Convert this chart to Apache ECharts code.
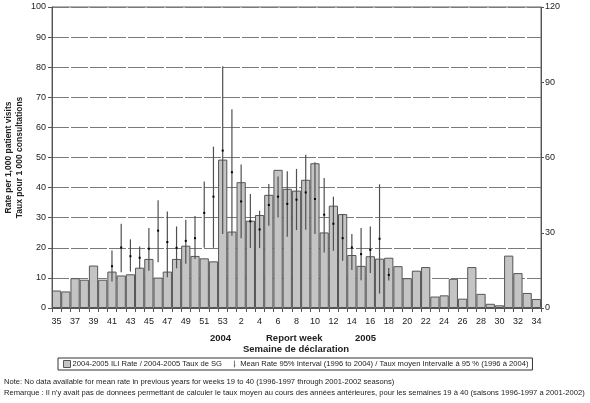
<!DOCTYPE html>
<html><head><meta charset="utf-8">
<script src="https://cdn.jsdelivr.net/npm/echarts@6/dist/echarts.min.js"></script>
<style>html,body{margin:0;padding:0;background:#fff}#c{width:590px;height:403px}</style>
</head><body><div id="c"></div>
<script>
var weeks = ['35','36','37','38','39','40','41','42','43','44','45','46','47','48','49','50','51','52','53',
  '1','2','3','4','5','6','7','8','9','10','11','12','13','14','15','16','17','18','19','20','21','22','23','24','25','26','27','28','29','30','31','32','33','34'];
var iliRate = [5.8,5.5,9.9,9.4,14.1,9.4,12.1,10.8,11.2,13.4,16.3,10.1,12.1,16.3,20.7,17.3,16.5,15.5,49.3,
  25.4,41.8,29,30.9,37.6,45.9,39.6,39,42.6,48.1,25.1,34,31.2,17.6,14,17.2,16.4,
  16.7,13.9,9.9,12.4,13.6,3.8,4.2,9.7,3.1,13.6,4.7,1.4,0.9,17.4,11.6,5,3];
var meanRate = [null,null,null,null,null,null,13.9,20.1,17.2,16.7,19.7,25.7,21.9,20,22.3,23.2,31.6,37,52.3,
  45.1,35.4,28.8,26.1,34.2,37,34.6,36,38.4,36.2,31,28,23.2,20.1,17.9,19.3,23,11,
  null,null,null,null,null,null,null,null,null,null,null,null,null,null,null,null];
var meanLow = [null,null,null,null,null,null,8.8,11.9,12.1,13,12.4,15.2,10.2,13.2,14.7,16.3,20,20,24.6,
  24,23.2,19.9,19.9,27.3,30.1,23.7,25.9,26,24.6,18.4,19,15.7,12.6,9.2,11.6,4.8,9.1,
  null,null,null,null,null,null,null,null,null,null,null,null,null,null,null,null];
var meanHigh = [null,null,null,null,null,null,19.1,28,22.8,20.4,26.6,35.8,32.1,27.1,29.3,30.6,42,53.6,80.3,
  66,47.7,37.9,32.3,41.2,43.7,45.4,46.2,50.9,48.4,43.2,37,31.2,24.6,26.6,27.1,41.1,13.3,
  null,null,null,null,null,null,null,null,null,null,null,null,null,null,null,null];
var leftTicks = [0,10,20,30,40,50,60,70,80,90,100];
var rightTicks = [0,30,60,90,120];

var errData = [];
for (var i = 0; i < weeks.length; i++) {
  if (meanRate[i] != null) errData.push([i, meanLow[i], meanHigh[i], meanRate[i]]);
}
var FONT = 'Liberation Sans, Arial, sans-serif';
var chart = echarts.init(document.getElementById('c'));
chart.setOption({
  animation: false,
  backgroundColor: '#fff',
  grid: {left: 52, right: 49, top: 7, bottom: 95, show: true, borderColor: '#666', borderWidth: 1,
         containLabel: false, outerBoundsMode: 'none'},
  xAxis: {
    type: 'category', data: weeks, boundaryGap: true,
    axisLine: {lineStyle: {color: '#555', width: 1}},
    axisTick: {show: true, interval: 0, length: 4, lineStyle: {color: '#555'}},
    axisLabel: {interval: 1, color: '#222', fontSize: 9, fontFamily: FONT, margin: 9}
  },
  yAxis: [{
    type: 'value', min: leftTicks[0], max: leftTicks[leftTicks.length-1], interval: 10,
    name: 'Rate per 1,000 patient visits\nTaux pour 1 000 consultations',
    nameLocation: 'middle', nameGap: 27, nameRotate: 90, nameMoveOverlap: false,
    nameTextStyle: {fontSize: 8.5, fontWeight: 'bold', color: '#222', fontFamily: FONT, lineHeight: 11},
    axisLine: {show: true, lineStyle: {color: '#555'}},
    axisTick: {show: true, length: 4, lineStyle: {color: '#555'}},
    axisLabel: {color: '#222', fontSize: 9, fontFamily: FONT, margin: 6},
    splitLine: {show: true, lineStyle: {color: '#7a7a7a', width: 1, type: [17, 2]}}
  }, {
    type: 'value', min: rightTicks[0], max: rightTicks[rightTicks.length-1], interval: 30, position: 'right',
    axisLine: {show: true, lineStyle: {color: '#555'}},
    axisTick: {show: true, length: 3, lineStyle: {color: '#555'}},
    axisLabel: {color: '#222', fontSize: 9, fontFamily: FONT, margin: 4},
    splitLine: {show: false}
  }],
  legend: {
    left: 58, top: 358, orient: 'horizontal',
    borderColor: '#333', borderWidth: 1, padding: [2, 4, 2, 5], itemGap: 12,
    itemWidth: 7, itemHeight: 7,
    textStyle: {fontSize: 7.6, color: '#222', fontFamily: FONT, padding: [0,0,0,-3]},
    data: [
      {name: '2004-2005 ILI Rate / 2004-2005 Taux de SG', icon: 'rect', itemStyle: {color: '#c4c4c4', borderColor: '#555', borderWidth: 1}},
      {name: 'Mean Rate 95% Interval (1996 to 2004) / Taux moyen Intervalle à 95 % (1996 à 2004)', icon: 'path://M4,0 L5,0 L5,10 L4,10 Z M5,6 L6,6 L6,7 L5,7 Z', itemStyle: {color: '#444'}}
    ]
  },
  series: [{
    name: '2004-2005 ILI Rate / 2004-2005 Taux de SG',
    type: 'bar', data: iliRate, barCategoryGap: '0%',
    itemStyle: {color: '#c4c4c4', borderColor: '#555', borderWidth: 1}
  }, {
    name: 'Mean Rate 95% Interval (1996 to 2004) / Taux moyen Intervalle à 95 % (1996 à 2004)',
    type: 'custom', data: errData, z: 5,
    encode: {x: 0, y: [1, 2, 3]},
    renderItem: function (params, api) {
      var x = api.value(0);
      var lo = api.coord([x, api.value(1)]);
      var hi = api.coord([x, api.value(2)]);
      var m = api.coord([x, api.value(3)]);
      return {type: 'group', children: [
        {type: 'line', shape: {x1: lo[0], y1: lo[1], x2: hi[0], y2: hi[1]}, style: {stroke: '#505050', lineWidth: 1.2}},
        {type: 'rect', shape: {x: m[0] - 1, y: m[1] - 1, width: 2, height: 2}, style: {fill: '#000'}}
      ]};
    }
  }],
  graphic: [
    {type: 'text', left: 210, top: 333, style: {text: '2004', font: 'bold 9.5px ' + FONT, fill: '#222'}},
    {type: 'text', left: 266, top: 333, style: {text: 'Report week', font: 'bold 9.5px ' + FONT, fill: '#222'}},
    {type: 'text', left: 355, top: 333, style: {text: '2005', font: 'bold 9.5px ' + FONT, fill: '#222'}},
    {type: 'text', left: 243, top: 344, style: {text: 'Semaine de déclaration', font: 'bold 9.5px ' + FONT, fill: '#222'}},
    {type: 'text', x: 4, y: 378, scaleX: 0.95, style: {text: 'Note: No data available for mean rate in previous years for weeks 19 to 40 (1996-1997 through 2001-2002 seasons)', font: '8px ' + FONT, fill: '#222'}},
    {type: 'text', x: 4, y: 389, scaleX: 0.95, style: {text: "Remarque : Il n'y avait pas de donnees permettant de calculer le taux moyen au cours des années antérieures, pour les semaines 19 à 40 (saisons 1996-1997 a 2001-2002)", font: '8px ' + FONT, fill: '#222'}}
  ]
});
</script></body></html>
